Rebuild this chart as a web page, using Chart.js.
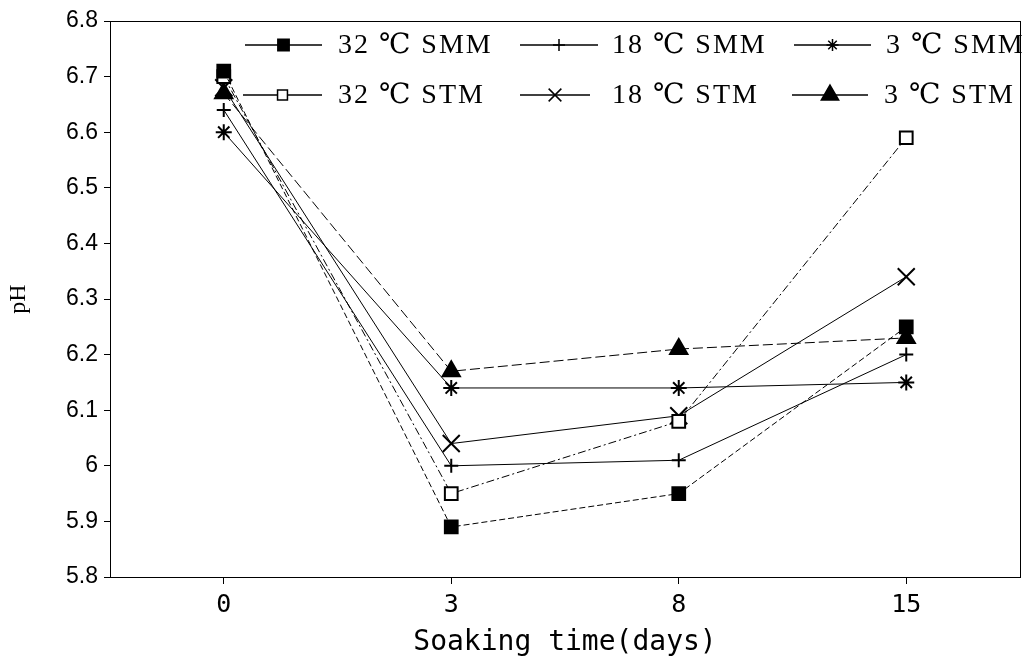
<!DOCTYPE html>
<html lang="en">
<head>
    <meta charset="UTF-8">
    <title>pH vs soaking time</title>
    <script src="https://cdn.jsdelivr.net/npm/chart.js"></script>
    <style>
        html, body { margin: 0; padding: 0; background: #fff; }
        #wrap { width: 1029px; height: 664px; }
    </style>
</head>
<body>
    <div id="wrap"><canvas id="phChart" width="1029" height="664"></canvas></div>

    <script>
        // Dati
        const days = ['0', '3', '8', '15'];
        const smm32 = [6.71, 5.89, 5.95, 6.25];
        const smm18 = [6.64, 6.00, 6.01, 6.20];
        const smm3  = [6.60, 6.14, 6.14, 6.15];
        const stm32 = [6.70, 5.95, 6.08, 6.59];
        const stm18 = [6.68, 6.04, 6.09, 6.34];
        const stm3  = [6.67, 6.17, 6.21, 6.23];
        const yTicks = [5.8, 5.9, 6.0, 6.1, 6.2, 6.3, 6.4, 6.5, 6.6, 6.7, 6.8];

        const seriesNames = ['32 ℃ SMM', '18 ℃ SMM', '3 ℃ SMM', '32 ℃ STM', '18 ℃ STM', '3 ℃ STM'];

        function serie(label, data, style, radius, fill, dash, legendRadius) {
            return {
                label: label,
                data: data,
                borderColor: '#000',
                borderWidth: 1,
                borderDash: dash,
                pointStyle: style,
                pointRadius: radius,
                pointBorderWidth: 2,
                pointBorderColor: '#000',
                pointBackgroundColor: fill,
                legendRadius: legendRadius,
                tension: 0
            };
        }

        // legenda disegnata dentro l'area del grafico (2 righe x 3 colonne)
        const legendInside = {
            id: 'legendInside',
            afterDraw(chart) {
                const ctx = chart.ctx;
                // [inizio linea, fine linea, inizio testo, y]
                const slots = [
                    [245, 322, 338, 45], [520, 598, 612, 45], [794, 871, 886, 45],
                    [243, 322, 338, 95], [520, 590, 612, 95], [792, 868, 884, 95]
                ];
                chart.data.datasets.forEach((ds, i) => {
                    const s = slots[i];
                    ctx.save();
                    ctx.strokeStyle = '#000';
                    ctx.lineWidth = 1.5;
                    ctx.beginPath();
                    ctx.moveTo(s[0], s[3]);
                    ctx.lineTo(s[1], s[3]);
                    ctx.stroke();
                    ctx.fillStyle = ds.pointBackgroundColor;
                    ctx.lineWidth = 1.5;
                    Chart.helpers.drawPoint(ctx, {
                        pointStyle: ds.pointStyle,
                        radius: ds.legendRadius,
                        borderWidth: 1.5,
                        rotation: 0
                    }, (s[0] + s[1]) / 2, s[3]);
                    ctx.fillStyle = '#000';
                    ctx.font = '28px "Liberation Serif", "DejaVu Serif", serif';
                    ctx.letterSpacing = '2px';
                    ctx.textBaseline = 'middle';
                    ctx.fillText(ds.label, s[2], s[3] + 1);
                    ctx.restore();
                });
            }
        };

        // cornice attorno all'area del grafico
        const frame = {
            id: 'frame',
            afterDatasetsDraw(chart) {
                const a = chart.chartArea;
                const ctx = chart.ctx;
                ctx.save();
                ctx.strokeStyle = '#000';
                ctx.lineWidth = 1;
                ctx.strokeRect(a.left + 0.5, a.top + 0.5, a.right - a.left, a.bottom - a.top);
                ctx.restore();
            }
        };

        const ctx = document.getElementById('phChart').getContext('2d');
        const phChart = new Chart(ctx, {
            type: 'line',
            data: {
                labels: days,
                datasets: [
                    serie(seriesNames[0], smm32, 'rect', 9, '#000', [6, 3], 8),
                    serie(seriesNames[1], smm18, 'cross', 7, '#000', [], 6),
                    serie(seriesNames[2], smm3, 'star', 8, '#000', [], 6),
                    serie(seriesNames[3], stm32, 'rect', 9, '#fff', [8, 3, 2, 3], 7),
                    serie(seriesNames[4], stm18, 'crossRot', 12, '#000', [], 9),
                    serie(seriesNames[5], stm3, 'triangle', 10, '#000', [10, 4], 10)
                ]
            },
            options: {
                responsive: false,
                animation: false,
                layout: { autoPadding: false, padding: { top: 21, right: 9, left: 0, bottom: 0 } },
                plugins: {
                    legend: { display: false },
                    tooltip: { enabled: false }
                },
                scales: {
                    x: {
                        offset: true,
                        grid: { drawOnChartArea: false, drawTicks: true, tickLength: 7, color: '#000', offset: false },
                        border: { display: true, color: '#000' },
                        ticks: {
                            color: '#000',
                            padding: 6,
                            font: { family: '"DejaVu Sans Mono", monospace', size: 25 }
                        },
                        title: {
                            display: true,
                            text: 'Soaking time(days)',
                            color: '#000',
                            padding: { top: 0 },
                            font: { family: '"DejaVu Sans Mono", monospace', size: 28 }
                        },
                        afterFit(scale) { scale.height = 87; }
                    },
                    y: {
                        min: 5.8,
                        max: 6.8,
                        afterBuildTicks(scale) { scale.ticks = yTicks.map(v => ({ value: v })); },
                        grid: { drawOnChartArea: false, drawTicks: true, tickLength: 6, color: '#000' },
                        border: { display: true, color: '#000' },
                        ticks: {
                            color: '#000',
                            padding: 6,
                            font: { family: '"Liberation Sans", Arial, sans-serif', size: 23 },
                            callback: v => parseFloat(Number(v).toFixed(1)).toString()
                        },
                        title: {
                            display: true,
                            text: 'pH',
                            color: '#000',
                            padding: { bottom: 4 },
                            font: { family: '"Liberation Serif", serif', size: 24 }
                        },
                        afterFit(scale) { scale.width = 110; }
                    }
                }
            },
            plugins: [frame, legendInside]
        });
    </script>
</body>
</html>
